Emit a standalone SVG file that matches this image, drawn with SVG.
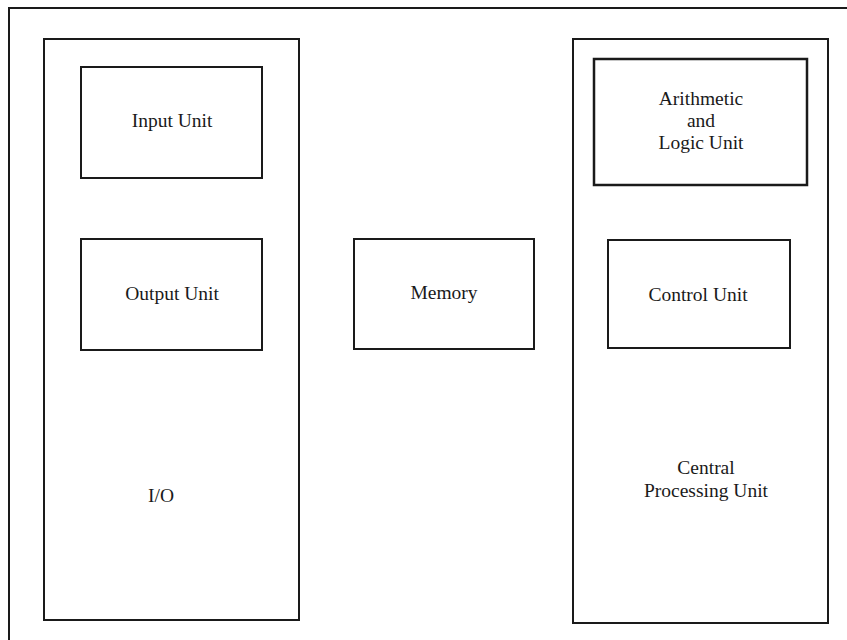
<svg xmlns="http://www.w3.org/2000/svg" width="847" height="640" viewBox="0 0 847 640">
<style>
.box{fill:none;stroke:#1a1a1a;stroke-width:2}
text{font-family:'Liberation Serif','Times New Roman',Times,serif;font-size:19.5px;fill:#1a1a1a;text-anchor:middle}
</style>
<rect width="847" height="640" fill="#fff"/>
<g id="frame"><rect class="box" x="9" y="8" width="860" height="660"/></g>
<g id="io">
<rect class="box" x="44" y="39" width="255" height="581"/>
<text x="161" y="502">I/O</text>
</g>
<g id="input-unit">
<rect class="box" x="81" y="67" width="181" height="111"/>
<text x="172" y="127">Input Unit</text>
</g>
<g id="output-unit">
<rect class="box" x="81" y="239" width="181" height="111"/>
<text x="172" y="300">Output Unit</text>
</g>
<g id="memory">
<rect class="box" x="354" y="239" width="180" height="110"/>
<text x="444" y="299">Memory</text>
</g>
<g id="cpu">
<rect class="box" x="573" y="39" width="255" height="584"/>
<text x="706" y="474">Central</text>
<text x="706" y="497">Processing Unit</text>
</g>
<g id="alu">
<rect class="box" x="594" y="59" width="213" height="126" style="stroke-width:2.5"/>
<text x="701" y="105">Arithmetic</text>
<text x="701" y="127">and</text>
<text x="701" y="149">Logic Unit</text>
</g>
<g id="control-unit">
<rect class="box" x="608" y="240" width="182" height="108"/>
<text x="698" y="301">Control Unit</text>
</g>
<g id="connectors"></g>
</svg>
